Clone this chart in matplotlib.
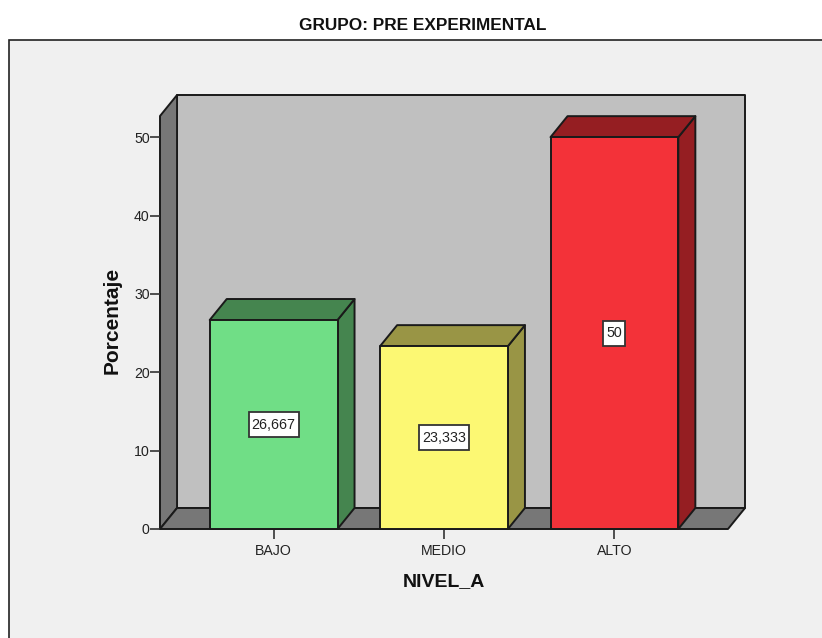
import matplotlib
matplotlib.use("Agg")
import matplotlib.pyplot as plt
from matplotlib.patches import Polygon, Rectangle

categories = ["BAJO", "MEDIO", "ALTO"]
percentages = [26.667, 23.333, 50]
value_labels = ["26,667", "23,333", "50"]
y_ticks = [0, 10, 20, 30, 40, 50]

front_colors = ["#70DE86", "#FCF873", "#F33239"]
top_colors = ["#45854F", "#999545", "#951E22"]
side_colors = ["#45854F", "#999545", "#951E22"]

W, H = 822, 638
bar_width = 0.75
depth_x = 0.1   # 3d offset in category units
depth_y = 2.68  # 3d offset in percent units
x_min, x_max = -2 / 3, 2 + 2 / 3
y_max = 52.7
px_x = (x_max - x_min) / 568  # one pixel in data units
px_y = y_max / 413
label_box_widths = [50, 50, 22]  # pixels
label_box_height = 25

plt.rcParams["font.family"] = ["Liberation Sans", "DejaVu Sans"]

fig = plt.figure(figsize=(W / 100, H / 100), dpi=100, facecolor="white")

# grey panel behind the chart, open at the right and at the bottom
fig.add_artist(Rectangle((9 / W, -0.01), 1, 1 - 40 / H + 0.01, transform=fig.transFigure,
                         facecolor="#F0F0F0", edgecolor="#222222", linewidth=1.2, zorder=-5))
fig.text(423 / W, 1 - 25 / H, "GRUPO: PRE EXPERIMENTAL", ha="center", va="center",
         fontsize=12.4, fontweight="bold", color="#111111")

ax = fig.add_axes([160 / W, 1 - 529 / H, 568 / W, 413 / H], facecolor="none")
ax.set_xlim(x_min, x_max)
ax.set_ylim(0, y_max)
for s in ax.spines.values():
    s.set_visible(False)


def face(points, color, z=2):
    ax.add_patch(Polygon(points, closed=True, facecolor=color, edgecolor="#1A1A1A",
                         linewidth=1.4, joinstyle="round", clip_on=False, zorder=z))


# back wall, left wall and floor
face([(x_min + depth_x, depth_y), (x_max + depth_x, depth_y),
      (x_max + depth_x, y_max + depth_y), (x_min + depth_x, y_max + depth_y)], "#C0C0C0", 1)
face([(x_min, 0), (x_min + depth_x, depth_y),
      (x_min + depth_x, y_max + depth_y), (x_min, y_max)], "#777777", 1)
face([(x_min, 0), (x_max, 0), (x_max + depth_x, depth_y), (x_min + depth_x, depth_y)], "#777777", 1)

for i, value in enumerate(percentages):
    x0 = i - bar_width / 2
    x1 = i + bar_width / 2
    face([(x1, 0), (x1 + depth_x, depth_y), (x1 + depth_x, value + depth_y), (x1, value)], side_colors[i], 3)
    face([(x0, value), (x1, value), (x1 + depth_x, value + depth_y), (x0 + depth_x, value + depth_y)], top_colors[i], 3)
    face([(x0, 0), (x1, 0), (x1, value), (x0, value)], front_colors[i], 4)
    # value label in its white box
    box_w = label_box_widths[i] * px_x
    box_h = label_box_height * px_y
    ax.add_patch(Rectangle((i - box_w / 2, value / 2 - box_h / 2), box_w, box_h, facecolor="white",
                           edgecolor="#333333", linewidth=1.3, zorder=5))
    ax.text(i, value / 2, value_labels[i], ha="center", va="center", fontsize=10.3, color="#222222", zorder=6)

ax.set_xticks(range(len(categories)))
ax.set_xticklabels(categories)
ax.set_yticks(y_ticks)
ax.tick_params(axis="both", labelsize=10.2, labelcolor="#222222", color="#333333", length=7, width=1.2)
ax.tick_params(axis="x", pad=3.5)
ax.tick_params(axis="y", pad=0.5)
ax.set_xlabel("NIVEL_A", fontsize=14, fontweight="bold", color="#111111", labelpad=11)
ax.set_ylabel("Porcentaje", fontsize=15, fontweight="bold", color="#111111", va="center")
ax.yaxis.set_label_coords((112 - 160) / 568, (529 - 320) / 413)

fig.savefig("out.png", dpi=100, facecolor="white")
